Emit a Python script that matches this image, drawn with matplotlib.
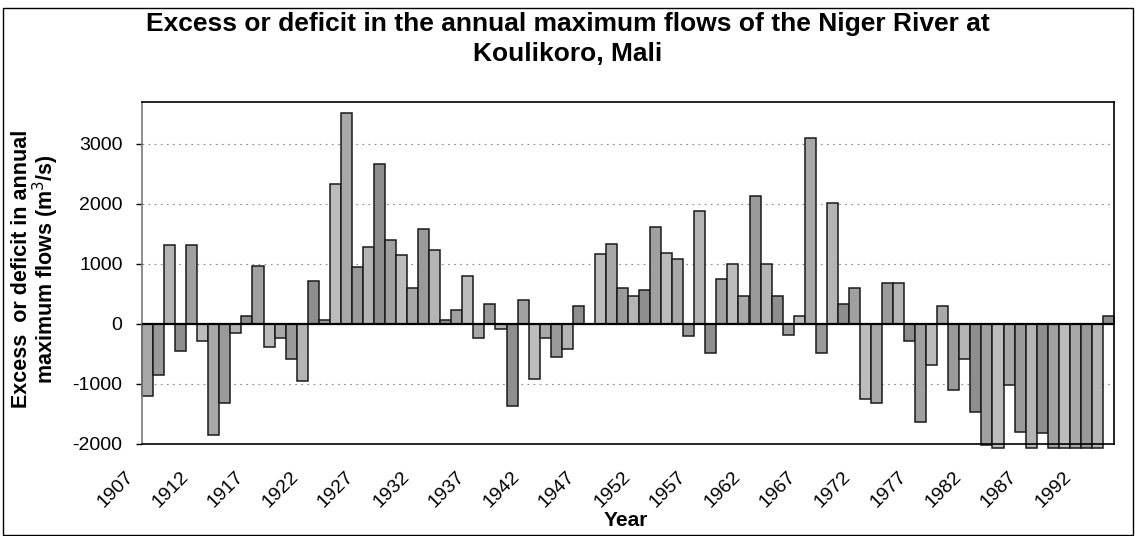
import matplotlib
matplotlib.use("Agg")
import matplotlib.pyplot as plt
import matplotlib.transforms as mtransforms
from matplotlib.patches import Rectangle

plt.rcParams['font.family'] = ['Liberation Sans', 'DejaVu Sans']

# ---- data ----
years = list(range(1907, 1995))
flow_anomaly = [
    -1210, -850, 1317, -460, 1317, -290, -1860, -1320, -155, 128,      # 1907-1916
    955, -390, -233, -583, -955, 717, 67, 2333, 3517, 950,             # 1917-1926
    1278, 2667, 1389, 1150, 594, 1583, 1222, 67, 233, 789,             # 1927-1936
    -233, 322, -83, -1378, 389, -917, -233, -556, -417, 300,           # 1937-1946
    0, 1161, 1322, 600, 456, 556, 1611, 1183, 1083, -206,              # 1947-1956
    1878, -483, 744, 989, 456, 2139, 989, 456, -194, 128,              # 1957-1966
    3094, -489, 2011, 322, 594, -1250, -1317, 683, 683, -289,          # 1967-1976
    -1639, -694, 300, -1111, -583, -1472, -2020, -2070, -1017, -1800,  # 1977-1986
    -2070, -1833, -2070, -2070, -2070, -2070, -2070, 128,              # 1987-1994
]
y_ticks = [-2000, -1000, 0, 1000, 2000, 3000]
x_label_years = list(range(1907, 1995, 5))

title = "Excess or deficit in the annual maximum flows of the Niger River at\nKoulikoro, Mali"
ylabel = "Excess  or deficit in annual\nmaximum flows (m$^3$/s)"
xlabel = "Year"

# ---- figure ----
W, H = 1135, 536
fig = plt.figure(figsize=(W / 100, H / 100), dpi=100)
fig.patch.set_facecolor('white')

ax = fig.add_axes([142 / W, 1 - 443.5 / H, 972 / W, 341.5 / H])

greys = ['#a8a8a8', '#9a9a9a', '#b4b4b4', '#8e8e8e', '#a0a0a0', '#bcbcbc']
xs = list(range(len(years)))
colors = [greys[i % len(greys)] for i in xs]
ax.bar(xs, flow_anomaly, width=1.0, color=colors, edgecolor='#1a1a1a',
       linewidth=1.1, zorder=2, clip_on=False)

ax.axhline(0, color='black', lw=1.6, zorder=3)
ax.set_xlim(-0.5, len(years) - 0.5)
ax.set_ylim(-2000, 3700)

ax.set_yticks(y_ticks)
ax.set_yticklabels([str(v) for v in y_ticks], fontsize=14)
ax.tick_params(axis='y', length=4, width=1, pad=10, direction='out')
for v in y_ticks:
    if v not in (0, -2000):
        ax.axhline(v, color='#8a8a8a', lw=0.8, ls=(0, (1.5, 4)), zorder=1)

tick_pos = [years.index(y) for y in x_label_years]
ax.set_xticks(tick_pos)
ax.set_xticklabels([str(y) for y in x_label_years], fontsize=14,
                   rotation=45, ha='right', va='top', rotation_mode='anchor')
ax.tick_params(axis='x', length=0, pad=18)
offset = mtransforms.ScaledTranslation(-23 / 100, 0, fig.dpi_scale_trans)
for lab in ax.get_xticklabels():
    lab.set_transform(lab.get_transform() + offset)

for s in ['top', 'right', 'bottom']:
    ax.spines[s].set_color('black')
    ax.spines[s].set_linewidth(1.2)
ax.spines['left'].set_color('#7a7a7a')
ax.spines['left'].set_linewidth(1.2)

fig.text(0.5, 1 - 39 / H, title, ha='center', va='center', fontsize=19,
         fontweight='bold', linespacing=1.3)
fig.text(36 / W, 1 - 269 / H, ylabel, ha='center', va='center', rotation=90,
         fontsize=15.5, fontweight='bold', linespacing=0.92, multialignment='center')
fig.text(626 / W, 1 - 521 / H, xlabel, ha='center', va='center', fontsize=15,
         fontweight='bold')

fig.patches.append(Rectangle((3 / W, 1 / H), 1130 / W, 527 / H, transform=fig.transFigure,
                             fill=False, edgecolor='black', lw=1.0))

fig.savefig('out.png', dpi=100, facecolor='white')
